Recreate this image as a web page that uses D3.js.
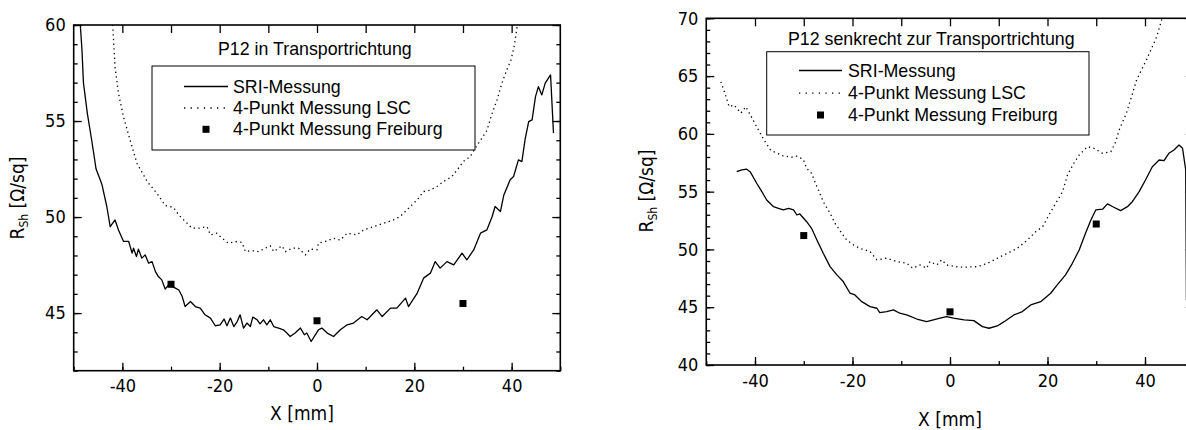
<!DOCTYPE html>
<html>
<head>
<meta charset="utf-8">
<script src="https://cdn.jsdelivr.net/npm/d3@7"></script>
<style>
  body { margin: 0; background: #fff; }
  svg { display: block; }
  .tick text { font-family: "DejaVu Sans Condensed", "DejaVu Sans", sans-serif; font-stretch: condensed; font-size: 18px; fill: #000; }
  .axtitle { font-family: "DejaVu Sans Condensed", "DejaVu Sans", sans-serif; font-stretch: condensed; font-size: 19px; fill: #000; }
  .leg { font-family: "Liberation Sans", Arial, sans-serif; font-size: 17.8px; fill: #000; }
</style>
</head>
<body>
<script>
(function (d3) {
    'use strict';

    // Left panel: P12 in Transportrichtung  [X mm, R_Sh Ohm/sq]
    var sriLeft = [[-48.9,61],[-48.3,58.7],[-48.0,57.0],[-47.2,55.4],[-46.3,54.0],[-45.4,52.5],[-44.5,51.9],[-44.2,51.7],[-43.2,50.55],[-42.5,49.5],[-41.5,49.85],[-40.8,49.33],[-39.75,48.73],[-38.7,48.73],[-38.0,48.12],[-37.7,48.38],[-37.1,47.94],[-36.7,48.33],[-36.0,47.86],[-35.3,48.03],[-34.6,47.6],[-33.9,47.68],[-33.2,47.16],[-32.6,46.9],[-31.9,46.73],[-31.2,46.25],[-30.5,46.47],[-29.1,46.3],[-28.4,46.2],[-27.7,45.86],[-27.1,45.34],[-26.0,45.6],[-25.0,45.34],[-24.0,45.26],[-23.0,44.91],[-21.9,44.74],[-20.9,44.34],[-19.9,44.39],[-19.1,44.69],[-18.5,44.34],[-17.8,44.74],[-17.1,44.3],[-16.4,44.56],[-15.8,44.91],[-15.1,44.22],[-14.4,44.48],[-13.7,44.3],[-13.2,44.79],[-12.3,44.65],[-11.7,44.44],[-11.0,44.65],[-10.3,44.39],[-9.6,44.65],[-8.9,44.3],[-7.9,44.22],[-6.9,44.13],[-6.2,43.96],[-5.5,43.78],[-4.5,43.96],[-3.4,44.22],[-2.6,43.87],[-2.1,43.96],[-1.2,43.52],[-0.35,43.87],[0.3,44.13],[1.0,44.22],[2.1,43.96],[3.4,43.78],[4.8,44.13],[6.2,44.39],[7.5,44.48],[9.2,44.82],[10.3,44.65],[12.3,45.17],[13.4,44.82],[15.1,45.26],[16.4,45.26],[18.2,45.78],[18.8,45.34],[20.6,46.04],[21.9,46.82],[23.3,47.08],[24.3,47.68],[25.3,47.34],[26.7,47.68],[28.1,47.51],[29.8,48.12],[30.8,47.77],[32.2,48.29],[33.6,49.16],[34.9,49.33],[36.0,50.03],[36.6,50.55],[37.7,50.29],[38.4,51.15],[39.7,51.94],[40.4,52.11],[41.4,52.98],[42.1,52.89],[42.8,54.1],[43.5,54.97],[44.2,55.06],[44.9,56.27],[45.5,56.79],[46.2,56.36],[46.9,56.97],[48.0,57.4],[48.6,54.37]];
    var lscLeft = [[-42.1,60.5],[-41.5,57.8],[-40.8,56.45],[-39.75,55.2],[-38.4,54.0],[-37.0,52.8],[-34.9,51.85],[-32.9,51.24],[-31.2,50.6],[-29.5,50.5],[-28.4,50.1],[-26.7,49.68],[-25.7,49.42],[-24.3,49.42],[-22.6,49.5],[-21.9,49.07],[-20.6,49.16],[-19.5,48.9],[-18.2,48.64],[-16.4,48.73],[-15.4,48.67],[-14.7,48.2],[-13.4,48.26],[-12.0,48.2],[-10.6,48.38],[-9.6,48.5],[-8.9,48.2],[-7.2,48.5],[-6.5,48.2],[-5.1,48.38],[-3.8,48.38],[-2.4,48.03],[-1.4,48.33],[0,48.3],[0.3,48.64],[1.7,48.73],[3.4,48.9],[4.8,48.8],[6.2,49.16],[8.2,49.07],[9.6,49.33],[11.6,49.5],[13.7,49.68],[15.7,49.85],[17.1,50.03],[18.5,50.38],[20.6,50.9],[21.9,51.33],[23.3,51.4],[24.7,51.6],[26.0,51.85],[27.7,52.1],[28.8,52.45],[30.1,52.9],[31.5,53.15],[32.5,53.58],[33.6,54.0],[34.9,54.5],[36.0,55.4],[37.0,56.1],[38.0,56.97],[39.0,57.66],[39.9,58.2],[40.6,59.0],[41.3,60.2]];
    var fbLeft = [[-30,46.5],[0,44.6],[30,45.5]];

    // Right panel: P12 senkrecht zur Transportrichtung
    var sriRight = [[-43.75,56.73],[-42.7,56.88],[-41.7,56.94],[-41.0,56.73],[-39.65,55.73],[-38.6,55.0],[-37.6,54.28],[-36.2,53.7],[-35.2,53.56],[-34.2,53.42],[-33.1,53.56],[-32.1,53.42],[-31.4,52.98],[-30.8,53.07],[-29.4,52.4],[-28.4,51.83],[-27.3,50.82],[-26.0,49.67],[-24.6,48.51],[-23.2,47.8],[-21.9,47.22],[-20.5,46.21],[-19.5,46.06],[-18.1,45.48],[-16.4,45.05],[-15.0,44.91],[-14.4,44.53],[-13.0,44.62],[-11.6,44.77],[-10.3,44.48],[-8.9,44.33],[-6.8,43.98],[-4.8,43.75],[-3.4,43.9],[-2.05,44.05],[-0.7,44.19],[0.7,44.05],[2.9,43.9],[4.9,43.84],[6.65,43.32],[8.0,43.18],[9.7,43.38],[11.1,43.75],[13.1,44.33],[14.85,44.62],[16.55,45.2],[18.6,45.48],[20.65,46.21],[22.0,46.93],[23.7,47.8],[25.1,48.8],[26.5,49.95],[27.8,51.4],[28.9,52.55],[29.9,53.42],[31.3,53.48],[32.3,53.94],[33.6,53.65],[35.0,53.36],[36.4,53.7],[37.4,54.13],[38.8,55.0],[40.1,56.01],[41.5,57.16],[42.9,57.74],[43.9,57.68],[44.9,58.32],[45.95,58.61],[46.97,59.04],[47.7,58.75],[48.35,56.9],[48.5,45.6]];
    var lscRight = [[-47.0,64.5],[-46.4,63.8],[-45.3,62.35],[-44.3,62.5],[-42.9,61.8],[-41.9,62.35],[-40.9,61.6],[-39.5,60.5],[-38.2,59.5],[-36.8,58.6],[-36.2,58.46],[-34.2,58.09],[-32.5,57.98],[-31.6,58.09],[-30.1,57.8],[-29.4,57.02],[-28.4,56.59],[-27.3,55.43],[-26.0,54.13],[-24.6,53.13],[-23.6,52.27],[-22.2,51.4],[-21.2,50.82],[-19.8,50.39],[-18.5,50.1],[-16.4,49.81],[-15.0,49.1],[-13.0,49.24],[-10.9,48.95],[-8.9,48.81],[-7.65,48.37],[-6.15,48.66],[-4.8,48.37],[-4.1,48.95],[-2.7,48.66],[-1.7,49.1],[-0.7,48.66],[1.0,48.51],[2.9,48.46],[5.6,48.51],[7.7,48.8],[9.7,49.24],[11.8,49.67],[13.8,50.1],[15.9,50.82],[17.6,51.54],[19.0,51.97],[20.3,52.98],[21.7,54.0],[23.1,55.0],[24.1,56.44],[25.4,57.46],[26.5,58.17],[28.2,58.9],[29.5,58.75],[31.3,58.32],[33.0,58.46],[34.0,59.33],[34.7,60.34],[36.2,61.8],[38.3,64.7],[40.3,66.4],[42.4,68.4],[43.4,69.85],[43.8,70.5]];
    var fbRight = [[-30,51.2],[0,44.6],[30,52.2]];

    var legendLabels = ["SRI-Messung", "4-Punkt Messung LSC", "4-Punkt Messung Freiburg"];
    var xTicks = [-40, -20, 0, 20, 40];

    var svg = d3.select("body").append("svg")
        .attr("width", 1186)
        .attr("height", 430);

    function plain(d) { return String(d); }

    function panel(p) {
        var x = d3.scaleLinear().domain([-50, 50]).range([p.left, p.right]);
        var y = d3.scaleLinear().domain(p.yDomain).range([p.bottom, p.top]);
        var g = svg.append("g");

        g.append("clipPath").attr("id", p.id)
            .append("rect")
            .attr("x", p.left).attr("y", p.top)
            .attr("width", p.right - p.left).attr("height", p.bottom - p.top);

        var yMajor = d3.range(Math.ceil(p.yDomain[0] / 5) * 5, p.yDomain[1] + 0.1, 5);
        var yMinor = d3.range(p.yDomain[0], p.yDomain[1] + 0.1, 1);

        // bottom axis
        g.append("g").attr("transform", "translate(0," + p.bottom + ")")
            .call(d3.axisBottom(x).tickValues(d3.range(-50, 51, 10)).tickSize(-4).tickFormat(""));
        g.append("g").attr("transform", "translate(0," + p.bottom + ")")
            .call(d3.axisBottom(x).tickValues(xTicks).tickSize(-8).tickPadding(p.xPad).tickFormat(plain));
        // top axis
        g.append("g").attr("transform", "translate(0," + p.top + ")")
            .call(d3.axisTop(x).tickValues(d3.range(-40, 41, 10)).tickSize(-8).tickFormat(""));
        // left axis
        g.append("g").attr("transform", "translate(" + p.left + ",0)")
            .call(d3.axisLeft(y).tickValues(yMinor).tickSize(-4).tickFormat(""));
        g.append("g").attr("transform", "translate(" + p.left + ",0)")
            .call(d3.axisLeft(y).tickValues(yMajor).tickSize(-8).tickPadding(8).tickFormat(plain));
        // right axis
        g.append("g").attr("transform", "translate(" + p.right + ",0)")
            .call(d3.axisRight(y).tickValues(yMinor).tickSize(-4).tickFormat(""));
        g.append("g").attr("transform", "translate(" + p.right + ",0)")
            .call(d3.axisRight(y).tickValues(yMajor).tickSize(-8).tickFormat(""));

        g.selectAll(".domain").remove();
        g.selectAll(".tick line").attr("stroke", "#000").attr("stroke-width", 1.3);
        g.selectAll(".tick text").attr("fill", "#000").attr("font-family", null).attr("font-size", null);

        g.append("rect")
            .attr("x", p.left).attr("y", p.top)
            .attr("width", p.right - p.left).attr("height", p.bottom - p.top)
            .attr("fill", "none").attr("stroke", "#000").attr("stroke-width", 1.6);

        var line = d3.line()
            .x(function (d) { return x(d[0]); })
            .y(function (d) { return y(d[1]); });

        var plot = g.append("g").attr("clip-path", "url(#" + p.id + ")");
        plot.append("path").datum(p.lsc)
            .attr("d", line).attr("fill", "none").attr("stroke", "#000")
            .attr("stroke-width", 1.3).attr("stroke-dasharray", "1.3,3.4");
        plot.append("path").datum(p.sri)
            .attr("d", line).attr("fill", "none").attr("stroke", "#000")
            .attr("stroke-width", 1.3).attr("stroke-linejoin", "round");
        plot.selectAll("rect.fb").data(p.fb).enter().append("rect")
            .attr("class", "fb")
            .attr("x", function (d) { return x(d[0]) - 3.5; })
            .attr("y", function (d) { return y(d[1]) - 3.5; })
            .attr("width", 7).attr("height", 7)
            .attr("fill", "#000");

        // axis titles
        g.append("text").attr("class", "axtitle")
            .attr("x", p.xLabelX).attr("y", p.xLabelY)
            .attr("text-anchor", "middle")
            .text("X [mm]");
        var yl = g.append("text").attr("class", "axtitle")
            .attr("text-anchor", "middle")
            .attr("transform", "translate(" + p.yLabelX + "," + p.yLabelY + ") rotate(-90)");
        yl.append("tspan").text("R");
        yl.append("tspan").attr("font-size", 12).attr("dy", 4).text("Sh");
        yl.append("tspan").attr("dy", -4).text(" [\u03A9/sq]");

        // title + legend
        g.append("text").attr("class", "leg")
            .attr("x", p.titleX).attr("y", p.titleY)
            .text(p.title);
        var L = p.leg;
        g.append("rect")
            .attr("x", L.x0).attr("y", L.y0)
            .attr("width", L.x1 - L.x0).attr("height", L.y1 - L.y0)
            .attr("fill", "#fff").attr("stroke", "#000").attr("stroke-width", 1);
        var rows = g.selectAll(".legrow").data(legendLabels).enter().append("g")
            .attr("class", "legrow")
            .attr("transform", function (d, i) { return "translate(0," + L.rows[i] + ")"; });
        rows.append("text").attr("class", "leg")
            .attr("x", L.textX).attr("y", 6)
            .text(function (d) { return d; });
        rows.filter(function (d, i) { return i === 0; }).append("line")
            .attr("x1", L.lx0).attr("x2", L.lx1).attr("stroke", "#000").attr("stroke-width", 1.3);
        rows.filter(function (d, i) { return i === 1; }).append("line")
            .attr("x1", L.lx0).attr("x2", L.lx1).attr("stroke", "#000").attr("stroke-width", 1.3)
            .attr("stroke-dasharray", "1.3,5.3");
        rows.filter(function (d, i) { return i === 2; }).append("rect")
            .attr("x", (L.lx0 + L.lx1) / 2 - 3.5).attr("y", -3.5)
            .attr("width", 7).attr("height", 7).attr("fill", "#000");
    }

    panel({
        id: "clipL", left: 73.7, right: 560.3, top: 25, bottom: 370.7, yDomain: [42, 60],
        sri: sriLeft, lsc: lscLeft, fb: fbLeft, xPad: 9,
        xLabelX: 302, xLabelY: 420, yLabelX: 24, yLabelY: 198,
        title: "P12 in Transportrichtung", titleX: 218, titleY: 55,
        leg: { x0: 152, y0: 66, x1: 475, y1: 150, rows: [86.5, 108, 129.3], lx0: 184, lx1: 228, textX: 233 }
    });

    panel({
        id: "clipR", left: 706.25, right: 1193.75, top: 18.3, bottom: 365, yDomain: [40, 70],
        sri: sriRight, lsc: lscRight, fb: fbRight, xPad: 9,
        xLabelX: 950, xLabelY: 426, yLabelX: 653, yLabelY: 191,
        title: "P12 senkrecht zur Transportrichtung", titleX: 788, titleY: 45,
        leg: { x0: 766.7, y0: 51.7, x1: 1089, y1: 135, rows: [70.5, 93.2, 115], lx0: 799, lx1: 842, textX: 848 }
    });

})(d3);
</script>
</body>
</html>
